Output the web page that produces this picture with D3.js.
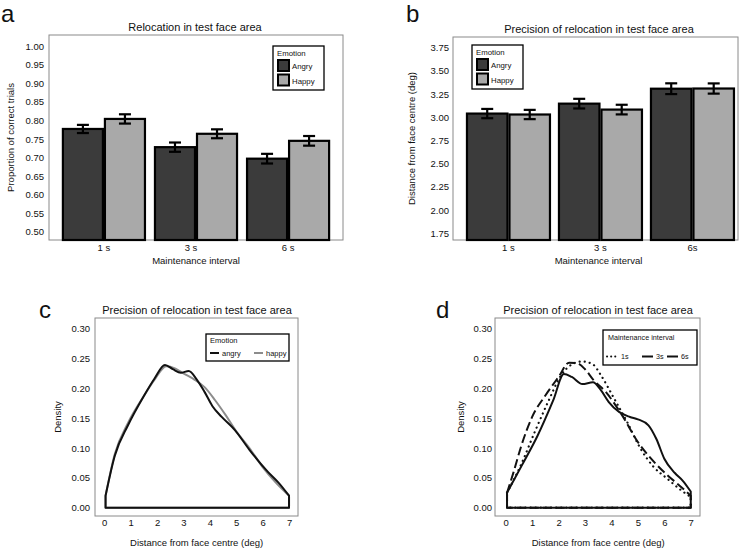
<!DOCTYPE html>
<html>
<head>
<meta charset="utf-8">
<script src="https://cdn.jsdelivr.net/npm/d3@7"></script>
<style>
  html, body { margin: 0; padding: 0; background: #fff; }
  svg { display: block; font-family: "Liberation Sans", Arial, sans-serif; }
</style>
</head>
<body>
<svg id="chart" width="750" height="550"></svg>
<script>
// ---------- DATA ----------
const intervalsA = ["1 s", "3 s", "6 s"];
const intervalsB = ["1 s", "3 s", "6s"];
const emotions = ["Angry", "Happy"];

const accAngry = [0.777, 0.728, 0.697];
const accHappy = [0.804, 0.764, 0.745];
const accAngryErr = [0.011, 0.0125, 0.013];
const accHappyErr = [0.0125, 0.012, 0.013];
const accTicks = [0.50, 0.55, 0.60, 0.65, 0.70, 0.75, 0.80, 0.85, 0.90, 0.95, 1.00];

const distAngry = [3.04, 3.147, 3.308];
const distHappy = [3.03, 3.083, 3.31];
const distAngryErr = [0.05, 0.052, 0.058];
const distHappyErr = [0.05, 0.052, 0.055];
const distTicks = [1.75, 2.00, 2.25, 2.50, 2.75, 3.00, 3.25, 3.50, 3.75];

const densTicks = [0, 0.05, 0.10, 0.15, 0.20, 0.25, 0.30];
const degTicks = [0, 1, 2, 3, 4, 5, 6, 7];

// panel c: density by emotion
const angryX = [0.05, 0.4, 0.9, 1.5, 1.9, 2.3, 2.6, 2.9, 3.2, 3.5, 3.8, 4.1, 4.45, 4.95, 5.5, 6.2, 6.6, 7.0];
const angryY = [0.02, 0.087, 0.138, 0.187, 0.216, 0.239, 0.232, 0.226, 0.229, 0.215, 0.194, 0.170, 0.152, 0.130, 0.097, 0.060, 0.042, 0.02];
const happyX = [0.05, 0.4, 0.9, 1.5, 1.9, 2.35, 2.7, 3.0, 3.4, 3.8, 4.2, 4.6, 5.0, 5.5, 6.0, 6.5, 7.0];
const happyY = [0.02, 0.09, 0.142, 0.187, 0.214, 0.237, 0.233, 0.225, 0.215, 0.202, 0.180, 0.155, 0.128, 0.100, 0.068, 0.042, 0.02];

// panel d: density by maintenance interval
const s1X = [0.05, 0.6, 1.1, 1.6, 2.1, 2.5, 2.9, 3.3, 3.6, 4.1, 4.6, 5.1, 5.6, 6.1, 6.7, 7.0];
const s1Y = [0.025, 0.074, 0.127, 0.177, 0.222, 0.240, 0.245, 0.240, 0.222, 0.183, 0.143, 0.099, 0.068, 0.049, 0.027, 0.018];
const s3X = [0.05, 0.3, 0.6, 1.0, 1.5, 2.0, 2.4, 2.7, 3.0, 3.3, 3.8, 4.4, 5.0, 5.5, 6.1, 6.6, 7.0];
const s3Y = [0.025, 0.060, 0.105, 0.152, 0.188, 0.219, 0.243, 0.242, 0.232, 0.215, 0.193, 0.155, 0.110, 0.082, 0.055, 0.036, 0.02];
const s6X = [0.05, 0.6, 1.2, 1.8, 2.2, 2.5, 2.9, 3.3, 3.6, 3.9, 4.3, 4.7, 5.0, 5.4, 5.7, 6.0, 6.4, 6.7, 7.0];
const s6Y = [0.025, 0.070, 0.120, 0.180, 0.224, 0.219, 0.207, 0.210, 0.197, 0.177, 0.160, 0.152, 0.148, 0.138, 0.115, 0.082, 0.058, 0.045, 0.027];

// ---------- DRAW ----------
const svg = d3.select("#chart");
const FONT_TICK = 9.5;
const DARK = "#3b3b3b", LIGHT = "#a9a9a9";

function panelLetter(txt, x, y) {
  svg.append("text").attr("x", x).attr("y", y).attr("font-size", 24)
    .attr("fill", "#111").text(txt);
}

function barPanel(o) {
  const g = svg.append("g");
  const y = d3.scaleLinear().domain(o.yDomain).range([o.y1, o.y0]);
  const x = d3.scaleBand().domain(o.cats).range([o.x0, o.x1])
    .paddingInner(o.padIn).paddingOuter(o.padOut).align(o.align);
  const xs = d3.scaleBand().domain(emotions).range([0, x.bandwidth()]).padding(0);

  g.append("rect").attr("x", o.x0).attr("y", o.y0).attr("width", o.x1 - o.x0).attr("height", o.y1 - o.y0)
    .attr("fill", "#fff").attr("stroke", "#8a8a8a").attr("stroke-width", 1);

  const rows = o.cats.map((c, i) => [
    { cat: c, em: "Angry", v: o.angry[i], e: o.angryErr[i] },
    { cat: c, em: "Happy", v: o.happy[i], e: o.happyErr[i] }
  ]).flat();

  const base = y(o.yDomain[0]);
  g.selectAll("rect.bar").data(rows).join("rect").attr("class", "bar")
    .attr("x", d => x(d.cat) + xs(d.em) + 1)
    .attr("width", xs.bandwidth() - 2)
    .attr("y", d => y(d.v))
    .attr("height", d => base - y(d.v))
    .attr("fill", d => d.em === "Angry" ? DARK : LIGHT)
    .attr("stroke", "#000").attr("stroke-width", 2.2);

  const cw = 6;
  rows.forEach(d => {
    const cx = x(d.cat) + xs(d.em) + xs.bandwidth() / 2;
    const eg = g.append("g").attr("stroke", "#000").attr("stroke-width", 2.2);
    eg.append("line").attr("x1", cx).attr("x2", cx).attr("y1", y(d.v + d.e)).attr("y2", y(d.v - d.e));
    eg.append("line").attr("x1", cx - cw).attr("x2", cx + cw).attr("y1", y(d.v + d.e)).attr("y2", y(d.v + d.e));
    eg.append("line").attr("x1", cx - cw).attr("x2", cx + cw).attr("y1", y(d.v - d.e)).attr("y2", y(d.v - d.e));
  });

  const ya = g.append("g").attr("transform", `translate(${o.x0},0)`)
    .call(d3.axisLeft(y).tickValues(o.ticks).tickFormat(d3.format(".2f")).tickSize(0).tickPadding(o.tickPad));
  ya.select(".domain").remove();
  ya.selectAll("text").attr("font-size", FONT_TICK).attr("fill", "#111").attr("font-family", null);

  const xa = g.append("g").attr("transform", `translate(0,${o.y1})`)
    .call(d3.axisBottom(x).tickSize(0).tickPadding(4));
  xa.select(".domain").remove();
  xa.selectAll("text").attr("font-size", FONT_TICK).attr("fill", "#111").attr("font-family", null)
    .attr("dx", (d, i) => o.labelShift ? o.labelShift[i] : 0);

  svg.append("text").attr("x", (o.x0 + o.x1) / 2 + (o.xtShift || 0)).attr("y", o.y1 + 24)
    .attr("text-anchor", "middle").attr("font-size", FONT_TICK).attr("fill", "#111").text(o.xTitle);
  svg.append("text").attr("transform", `translate(${o.yTitleX},${(o.y0 + o.y1) / 2}) rotate(-90)`)
    .attr("text-anchor", "middle").attr("font-size", FONT_TICK).attr("fill", "#111").text(o.yTitle);
  svg.append("text").attr("x", o.titleX).attr("y", o.y0 - 4).attr("text-anchor", "middle")
    .attr("font-size", 11).attr("fill", "#111").text(o.title);

  // legend
  const lg = svg.append("g").attr("transform", `translate(${o.legX},${o.legY})`);
  lg.append("rect").attr("width", 51).attr("height", 44).attr("fill", "#fff").attr("stroke", "#000").attr("stroke-width", 1.3);
  lg.append("text").attr("x", 4).attr("y", 10).attr("font-size", 7.8).attr("fill", "#111").text("Emotion");
  emotions.forEach((e, i) => {
    lg.append("rect").attr("x", 5).attr("y", 14 + i * 14.5).attr("width", 11).attr("height", 11)
      .attr("fill", i === 0 ? DARK : LIGHT).attr("stroke", "#000").attr("stroke-width", 2);
    lg.append("text").attr("x", 19).attr("y", 23 + i * 14.5).attr("font-size", 7.8).attr("fill", "#111").text(e);
  });
}

function densityPanel(o) {
  const g = svg.append("g");
  const x = d3.scaleLinear().domain(o.xDomain).range([o.x0, o.x1]);
  const y = d3.scaleLinear().domain(o.yDomain).range([o.y1, o.y0]);

  g.append("rect").attr("x", o.x0).attr("y", o.y0).attr("width", o.x1 - o.x0).attr("height", o.y1 - o.y0)
    .attr("fill", "#fff").attr("stroke", "#8a8a8a").attr("stroke-width", 1);

  const area = d3.area().x(d => x(d[0])).y0(y(0)).y1(d => y(d[1])).curve(d3.curveMonotoneX);
  o.series.forEach(s => {
    const pts = s.xs.map((v, i) => [v, s.ys[i]]);
    g.append("path").attr("d", area(pts)).attr("fill", "none")
      .attr("stroke", s.color).attr("stroke-width", s.width)
      .attr("stroke-dasharray", s.dash || null)
      .attr("stroke-linecap", s.cap || "butt").attr("stroke-linejoin", "round");
  });

  const ya = g.append("g").attr("transform", `translate(${o.x0},0)`)
    .call(d3.axisLeft(y).tickValues(densTicks).tickFormat(d3.format(".2f")).tickSize(0).tickPadding(o.tickPad));
  ya.select(".domain").remove();
  ya.selectAll("text").attr("font-size", FONT_TICK).attr("fill", "#111").attr("font-family", null);

  const xa = g.append("g").attr("transform", `translate(0,${o.y1})`)
    .call(d3.axisBottom(x).tickValues(degTicks).tickFormat(d3.format("d")).tickSize(0).tickPadding(3));
  xa.select(".domain").remove();
  xa.selectAll("text").attr("font-size", FONT_TICK).attr("fill", "#111").attr("font-family", null);

  svg.append("text").attr("x", (x(0) + x(7)) / 2).attr("y", o.y1 + 30).attr("text-anchor", "middle")
    .attr("font-size", FONT_TICK).attr("fill", "#111").text("Distance from face centre (deg)");
  svg.append("text").attr("transform", `translate(${o.yTitleX},${(o.y0 + o.y1) / 2}) rotate(-90)`)
    .attr("text-anchor", "middle").attr("font-size", FONT_TICK).attr("fill", "#111").text("Density");
  svg.append("text").attr("x", o.titleX).attr("y", o.y0 - 4).attr("text-anchor", "middle")
    .attr("font-size", 11).attr("fill", "#111").text("Precision of relocation in test face area");
  return g;
}

// Panel a
panelLetter("a", 1, 22);
barPanel({
  x0: 49, x1: 343, y0: 35, y1: 240, yDomain: [0.478, 1.03], ticks: accTicks,
  cats: intervalsA, angry: accAngry, happy: accHappy, angryErr: accAngryErr, happyErr: accHappyErr,
  padIn: 0.087, padOut: 0.14, align: 0.5, tickPad: 5,
  xTitle: "Maintenance interval", yTitle: "Proportion of correct trials", yTitleX: 14,
  title: "Relocation in test face area", titleX: 195, legX: 273, legY: 46, labelShift: [0, -5, 0]
});

// Panel b
panelLetter("b", 406, 22);
barPanel({
  x0: 453, x1: 738, y0: 37, y1: 240, yDomain: [1.678, 3.865], ticks: distTicks,
  cats: intervalsB, angry: distAngry, happy: distHappy, angryErr: distAngryErr, happyErr: distHappyErr,
  padIn: 0.076, padOut: 0.087, align: 0.81, tickPad: 4,
  xTitle: "Maintenance interval", yTitle: "Distance from face centre (deg)", yTitleX: 415, xtShift: 3,
  title: "Precision of relocation in test face area", titleX: 599, legX: 472, legY: 45
});

// Panel c
panelLetter("c", 39, 318);
densityPanel({
  x0: 95, x1: 298, y0: 318, y1: 516, xDomain: [-0.35, 7.34], yDomain: [-0.014, 0.3178], tickPad: 5,
  yTitleX: 61, titleX: 197,
  series: [
    { xs: happyX, ys: happyY, color: "#8c8c8c", width: 2 },
    { xs: angryX, ys: angryY, color: "#111", width: 2 }
  ]
});
{
  const lg = svg.append("g").attr("transform", "translate(206,334)");
  lg.append("rect").attr("width", 83).attr("height", 27).attr("fill", "#fff").attr("stroke", "#000").attr("stroke-width", 1.3);
  lg.append("text").attr("x", 4).attr("y", 9).attr("font-size", 7.5).attr("fill", "#111").text("Emotion");
  lg.append("line").attr("x1", 4).attr("x2", 13).attr("y1", 19).attr("y2", 19).attr("stroke", "#111").attr("stroke-width", 2);
  lg.append("text").attr("x", 16).attr("y", 21.5).attr("font-size", 7.5).attr("fill", "#111").text("angry");
  lg.append("line").attr("x1", 48).attr("x2", 57).attr("y1", 19).attr("y2", 19).attr("stroke", "#8c8c8c").attr("stroke-width", 2);
  lg.append("text").attr("x", 60).attr("y", 21.5).attr("font-size", 7.5).attr("fill", "#111").text("happy");
}

// Panel d
panelLetter("d", 436, 318);
densityPanel({
  x0: 495, x1: 700, y0: 318, y1: 516, xDomain: [-0.405, 7.35], yDomain: [-0.014, 0.3178], tickPad: 3,
  yTitleX: 464, titleX: 598,
  series: [
    { xs: s1X, ys: s1Y, color: "#111", width: 2.2, dash: "0.1 5", cap: "round" },
    { xs: s3X, ys: s3Y, color: "#111", width: 2, dash: "9 4" },
    { xs: s6X, ys: s6Y, color: "#111", width: 2 }
  ]
});
{
  const lg = svg.append("g").attr("transform", "translate(603,330)");
  lg.append("rect").attr("width", 94).attr("height", 35).attr("fill", "#fff").attr("stroke", "#000").attr("stroke-width", 1.3);
  lg.append("text").attr("x", 5).attr("y", 9.5).attr("font-size", 7.2).attr("fill", "#111").text("Maintenance interval");
  const items = [
    { lab: "1s", dash: "0.1 4", cap: "round", x: 4 },
    { lab: "3s", dash: null, x: 39 },
    { lab: "6s", dash: null, x: 64 }
  ];
  items.forEach(it => {
    lg.append("line").attr("x1", it.x).attr("x2", it.x + 11).attr("y1", 26.5).attr("y2", 26.5)
      .attr("stroke", "#111").attr("stroke-width", 2).attr("stroke-dasharray", it.dash)
      .attr("stroke-linecap", it.cap || "butt");
    lg.append("text").attr("x", it.x + 14).attr("y", 29).attr("font-size", 7.2).attr("fill", "#111").text(it.lab);
  });
}
</script>
</body>
</html>
